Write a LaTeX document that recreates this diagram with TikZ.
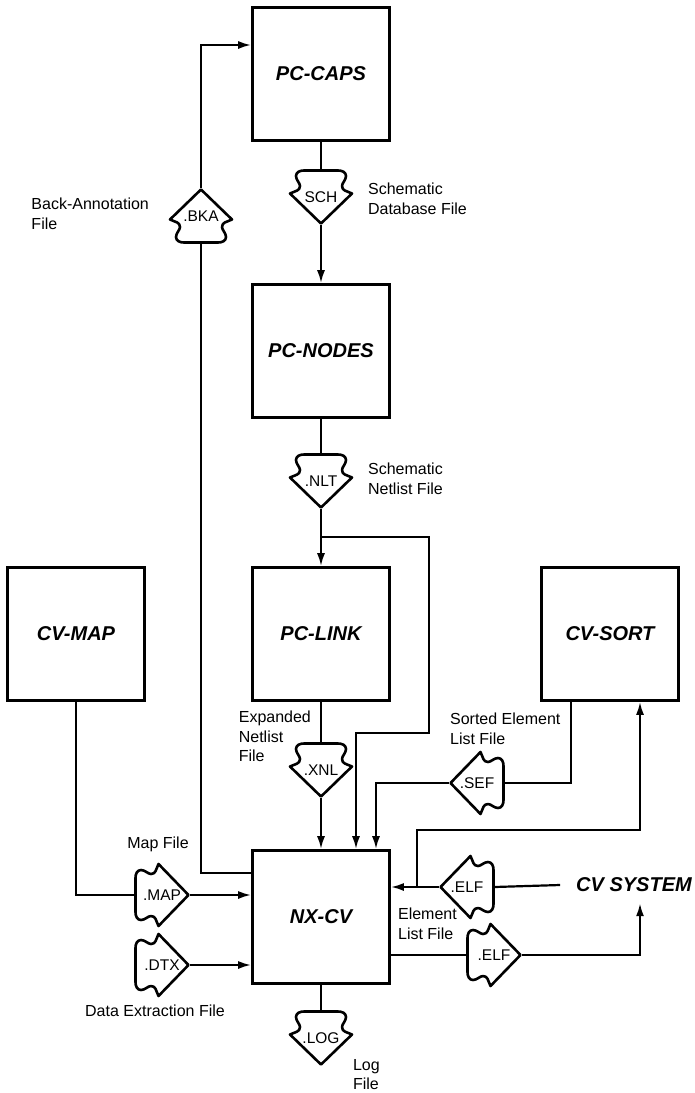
\documentclass[tikz,border=0pt]{standalone}
\usepackage{fontspec}
\setmainfont{Liberation Sans}
\usetikzlibrary{arrows.meta,positioning}

\tikzset{
  prog/.style={draw, line width=2.6pt, minimum width=137pt, minimum height=133pt,
    font=\fontsize{20}{24}\selectfont\bfseries\itshape},
  note/.style={align=left, inner sep=0pt, font=\fontsize{16}{19.5}\selectfont},
  vtag/.style={minimum width=62pt, minimum height=53pt, inner sep=0pt, font=\fontsize{15.5}{18}\selectfont},
  htag/.style={minimum width=53pt, minimum height=62pt, inner sep=0pt, font=\fontsize{15.5}{18}\selectfont},
  tagshape/.pic={
    \draw[line width=2.6pt, line join=round]
      (0,26.5) -- (-31,-3.5) .. controls (-26,-6) and (-21,-6) .. (-21,-11)
      .. controls (-21,-14) and (-25,-17) .. (-25,-21)
      .. controls (-25,-25) and (-21,-26.5) .. (-17,-26.5)
      -- (17,-26.5) .. controls (21,-26.5) and (25,-25) .. (25,-21)
      .. controls (25,-17) and (21,-14) .. (21,-11)
      .. controls (21,-6) and (26,-6) .. (31,-3.5) -- cycle;
  }
}

\begin{document}
\begin{tikzpicture}[x=1pt, y=-1pt, line width=2.2pt, >={Latex[length=13pt,width=8pt]}]
\useasboundingbox (0,0) rectangle (695,1093);

% programs
\node[prog] (caps) at (321,74) {PC-CAPS};
\node[prog] (nodes) at (321,351) {PC-NODES};
\node[prog] (link) at (321,634) {PC-LINK};
\node[prog] (nxcv) at (321,917) {NX-CV};
\node[prog] (map) at (76,634) {CV-MAP};
\node[prog] (sort) at (610,634) {CV-SORT};
\node[inner xsep=15pt, inner ysep=10pt, font=\fontsize{20}{24}\selectfont\bfseries\itshape] (system) at (634,885) {CV SYSTEM};

% files
\node[vtag] (sch) at (321,197) {SCH};
\pic at (sch) {tagshape};
\node[vtag] (bka) at (201,216) {.BKA};
\pic[rotate=180] at (bka) {tagshape};
\node[vtag] (nlt) at (321,481) {.NLT};
\pic at (nlt) {tagshape};
\node[vtag] (xnl) at (321,770) {.XNL};
\pic at (xnl) {tagshape};
\node[htag] (sef) at (477,783) {.SEF};
\pic[rotate=-90] at (sef) {tagshape};
\node[htag] (elfin) at (467,887) {.ELF};
\pic[rotate=-90] at (elfin) {tagshape};
\node[htag] (elfout) at (494,955) {.ELF};
\pic[rotate=90] at (elfout) {tagshape};
\node[htag] (maptag) at (162,895) {.MAP};
\pic[rotate=90] at (maptag) {tagshape};
\node[htag] (dtx) at (162,965) {.DTX};
\pic[rotate=90] at (dtx) {tagshape};
\node[vtag] (log) at (321,1038) {.LOG};
\pic at (log) {tagshape};

% labels
\node[note, anchor=north west] (schlab) at (367,182) {Schematic\\Database File};
\node[note, anchor=east] (bkalab) at (150,214) {Back-Annotation\\File};
\node[note, anchor=north west] (nltlab) at (367,462) {Schematic\\Netlist File};
\node[note, anchor=north east] (xnllab) at (312,710) {Expanded\\Netlist\\File};
\node[note, anchor=north west] (seflab) at (449,712) {Sorted Element\\List File};
\node[note, anchor=south] (maplab) at (158,853) {Map File};
\node[note, anchor=north] (dtxlab) at (155,1004) {Data Extraction File};
\node[note, anchor=north west] (elflab) at (397,907) {Element\\List File};
\node[note, anchor=north west] (loglab) at (352,1058) {Log\\File};

% chain down the middle
\draw (caps) -- (sch);
\draw[->] (sch) -- (nodes);
\draw (nodes) -- (nlt);
\draw[->] (nlt) -- (link);
\coordinate (split) at (321,537);
\coordinate (bend) at (429,733);
\draw[->] (split) -| (bend) -| ([xshift=35pt]nxcv.north);
\draw (link) -- (xnl);
\draw[->] (xnl) -- (nxcv);
\draw (nxcv) -- (log);

% back annotation
\draw ([yshift=44pt]nxcv.west) -| (bka.south);
\draw[->] (bka.north) |- ([yshift=29pt]caps.west);

% map and data extraction
\draw (map.south) |- (maptag.west);
\draw[->] (maptag.east) -- (maptag.east -| nxcv.west);
\draw[->] (dtx.east) -- (dtx.east -| nxcv.west);

% sorted list
\draw ([xshift=-39pt]sort.south) |- (sef.east);
\draw[->] (sef.west) -| ([xshift=55pt]nxcv.north);

% cv system
\draw (system.west) -- (elfin.east);
\draw[->] (elfin.west) -- (elfin.west -| nxcv.east);
\coordinate (elfsplit) at (417,887);
\coordinate (sortfeed) at (640,830);
\draw[->] (elfsplit) |- (sortfeed) -- (sortfeed |- sort.south);
\draw (nxcv.east |- elfout) -- (elfout.west);
\draw[->] (elfout.east) -| ([xshift=6pt]system.south);

\end{tikzpicture}
\end{document}
